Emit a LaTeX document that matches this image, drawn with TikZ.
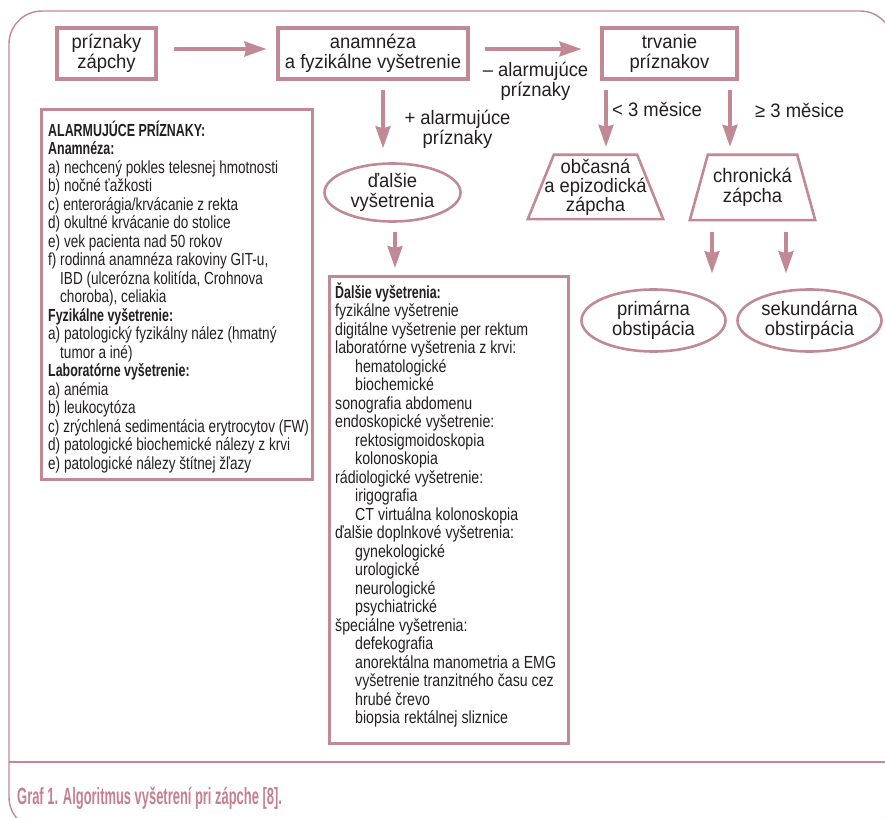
\documentclass[tikz,border=0pt]{standalone}
\usepackage{fontspec}
\setmainfont{Liberation Sans}
\newfontfamily\lblfont{Liberation Sans}[FakeStretch=0.945]
\newfontfamily\listfont{Liberation Sans}[FakeStretch=0.81]
\newfontfamily\listlfont{Liberation Sans}[FakeStretch=0.775]
\newfontfamily\lboldfont{Liberation Sans}[FakeStretch=0.71]
\newfontfamily\capfont{Liberation Sans}[FakeStretch=0.55]
\usetikzlibrary{arrows.meta,shapes.geometric}
\definecolor{mauve}{RGB}{193,137,150}
\definecolor{ink}{RGB}{35,31,32}
\definecolor{capc}{RGB}{196,128,144}
\newcommand{\lbold}{\lboldfont\bfseries}
\newcommand{\myind}{\hspace*{20pt}}
\newcommand{\myindl}{\hspace*{12pt}}
\begin{document}
\begin{tikzpicture}[x=1pt,y=-1pt,
  lbl/.style={font={\lblfont\fontsize{19.5}{20}\selectfont\lineskiplimit=-30pt}, text=ink, align=center, inner sep=0pt},
  box/.style={lbl, draw=mauve, line width=3.2pt, rectangle},
  oval/.style={lbl, draw=mauve, line width=2.6pt, ellipse},
  trap/.style={draw=mauve, line width=2.6pt, line join=miter},
  listbox/.style={draw=mauve, line width=3pt, rectangle, inner sep=0pt, anchor=north west},
  listtxt/.style={font={\listfont\fontsize{17.5}{18.5}\selectfont\lineskiplimit=-30pt}, text=ink, align=left, inner sep=0pt, anchor=north west},
  arr/.style={draw=mauve, line width=3.2pt, -{Stealth[length=22pt,width=15pt,inset=2pt]}},
  fr/.style={draw=mauve, line width=1.4pt}
]
\useasboundingbox (0,0) rectangle (885,818);
% frame
\draw[fr, rounded corners=33pt] (9,11) rectangle (893,830);
\draw[fr] (9,762) -- (893,762);
\node[anchor=base west, inner sep=0pt, text=capc, font={\capfont\bfseries\fontsize{23.5}{25}\selectfont}] (cap) at (17,804) {Graf 1. Algoritmus vyšetrení pri zápche [8].};

% main nodes
\node[box, minimum width=99pt, minimum height=51pt] (sympt) at (106.5,53.5) {príznaky\\zápchy};
\node[box, minimum width=190pt, minimum height=51pt] (anam) at (373,53.5) {anamnéza\\a fyzikálne vyšetrenie};
\node[box, minimum width=135pt, minimum height=51pt] (trv) at (669.5,53.5) {trvanie\\príznakov};
\node[oval, minimum width=136pt, minimum height=58pt] (dalsie) at (392.5,192.5) {ďalšie\\vyšetrenia};
\node[oval, minimum width=144pt, minimum height=62pt] (prim) at (653.5,320.5) {primárna\\obstipácia};
\node[oval, minimum width=144pt, minimum height=62pt] (sek) at (809.5,320.5) {sekundárna\\obstirpácia};

% trapezoids
\node[lbl, font={\lblfont\fontsize{19.5}{19}\selectfont\lineskiplimit=-30pt}, minimum width=135pt, minimum height=64pt] (occ) at (595.5,187) {občasná\\a epizodická\\zápcha};
\draw[trap] (occ.south west) -- (occ.south east) -- ([xshift=-26pt]occ.north east) -- ([xshift=26pt]occ.north west) -- cycle;
\node[lbl, minimum width=125pt, minimum height=65pt] (chron) at (752.5,187.5) {chronická\\zápcha};
\draw[trap] (chron.south west) -- (chron.south east) -- ([xshift=-18pt]chron.north east) -- ([xshift=18pt]chron.north west) -- cycle;

% list boxes
\node[listbox, minimum width=271pt, minimum height=370pt] (alarm) at (40,108) {};
\node[listtxt, font={\listlfont\fontsize{17.5}{18.5}\selectfont\lineskiplimit=-30pt}] (alarmtxt) at (48,119) {\rule{0pt}{17pt}{\lbold ALARMUJÚCE PRÍZNAKY:}\\
{\lbold Anamnéza:}\\
a) nechcený pokles telesnej hmotnosti\\
b) nočné ťažkosti\\
c) enterorágia/krvácanie z rekta\\
d) okultné krvácanie do stolice\\
e) vek pacienta nad 50 rokov\\
f) rodinná anamnéza rakoviny GIT-u,\\
\myindl IBD (ulcerózna kolitída, Crohnova\\
\myindl choroba), celiakia\\
{\lbold Fyzikálne vyšetrenie:}\\
a) patologický fyzikálny nález (hmatný\\
\myindl tumor a iné)\\
{\lbold Laboratórne vyšetrenie:}\\
a) anémia\\
b) leukocytóza\\
c) zrýchlená sedimentácia erytrocytov (FW)\\
d) patologické biochemické nálezy z krvi\\
e) patologické nálezy štítnej žľazy};

\node[listbox, minimum width=239pt, minimum height=467pt] (dvys) at (328,275) {};
\node[listtxt] (dvystxt) at (335,281) {\rule{0pt}{17pt}{\lbold Ďalšie vyšetrenia:}\\
fyzikálne vyšetrenie\\
digitálne vyšetrenie per rektum\\
laboratórne vyšetrenia z krvi:\\
\myind hematologické\\
\myind biochemické\\
sonografia abdomenu\\
endoskopické vyšetrenie:\\
\myind rektosigmoidoskopia\\
\myind kolonoskopia\\
rádiologické vyšetrenie:\\
\myind irigografia\\
\myind CT virtuálna kolonoskopia\\
ďalšie doplnkové vyšetrenia:\\
\myind gynekologické\\
\myind urologické\\
\myind neurologické\\
\myind psychiatrické\\
špeciálne vyšetrenia:\\
\myind defekografia\\
\myind anorektálna manometria a EMG\\
\myind vyšetrenie tranzitného času cez\\
\myind hrubé črevo\\
\myind biopsia rektálnej sliznice};

% arrow labels
\node[lbl] (lminus) at (535.5,81.5) {– alarmujúce\\príznaky};
\node[lbl] (lplus) at (457.5,129.5) {+ alarmujúce\\príznaky};
\node[lbl, anchor=base west] (lless) at (612,117) {< 3 měsice};
\node[lbl, anchor=base west] (lmore) at (755,118) {≥ 3 měsice};

% connector x positions
\coordinate (ax) at (383,0);
\coordinate (bx) at (395,0);
\coordinate (cx) at (606,0);
\coordinate (dx) at (730,0);
\coordinate (ex) at (712,0);
\coordinate (fx) at (786,0);

% arrows
\draw[arr, shorten <=16pt, shorten >=10pt] ([yshift=4.5pt]sympt.east) -- ([yshift=4.5pt]anam.west);
\draw[arr, shorten <=15pt, shorten >=19pt] ([yshift=4.5pt]anam.east) -- ([yshift=4.5pt]trv.west);
\draw[arr, shorten <=9pt, shorten >=14pt] (anam.south -| ax) -- (dalsie.north -| ax);
\draw[arr, shorten <=9pt, shorten >=7pt] (dalsie.south -| bx) -- (dvys.north -| bx);
\draw[arr, shorten <=9pt, shorten >=8pt] (trv.south -| cx) -- (occ.north -| cx);
\draw[arr, shorten <=9pt, shorten >=8pt] (trv.south -| dx) -- (chron.north -| dx);
\draw[arr, shorten <=12pt, shorten >=15pt] (chron.south -| ex) -- (prim.north -| ex);
\draw[arr, shorten <=12pt, shorten >=15pt] (chron.south -| fx) -- (sek.north -| fx);
\end{tikzpicture}
\end{document}
